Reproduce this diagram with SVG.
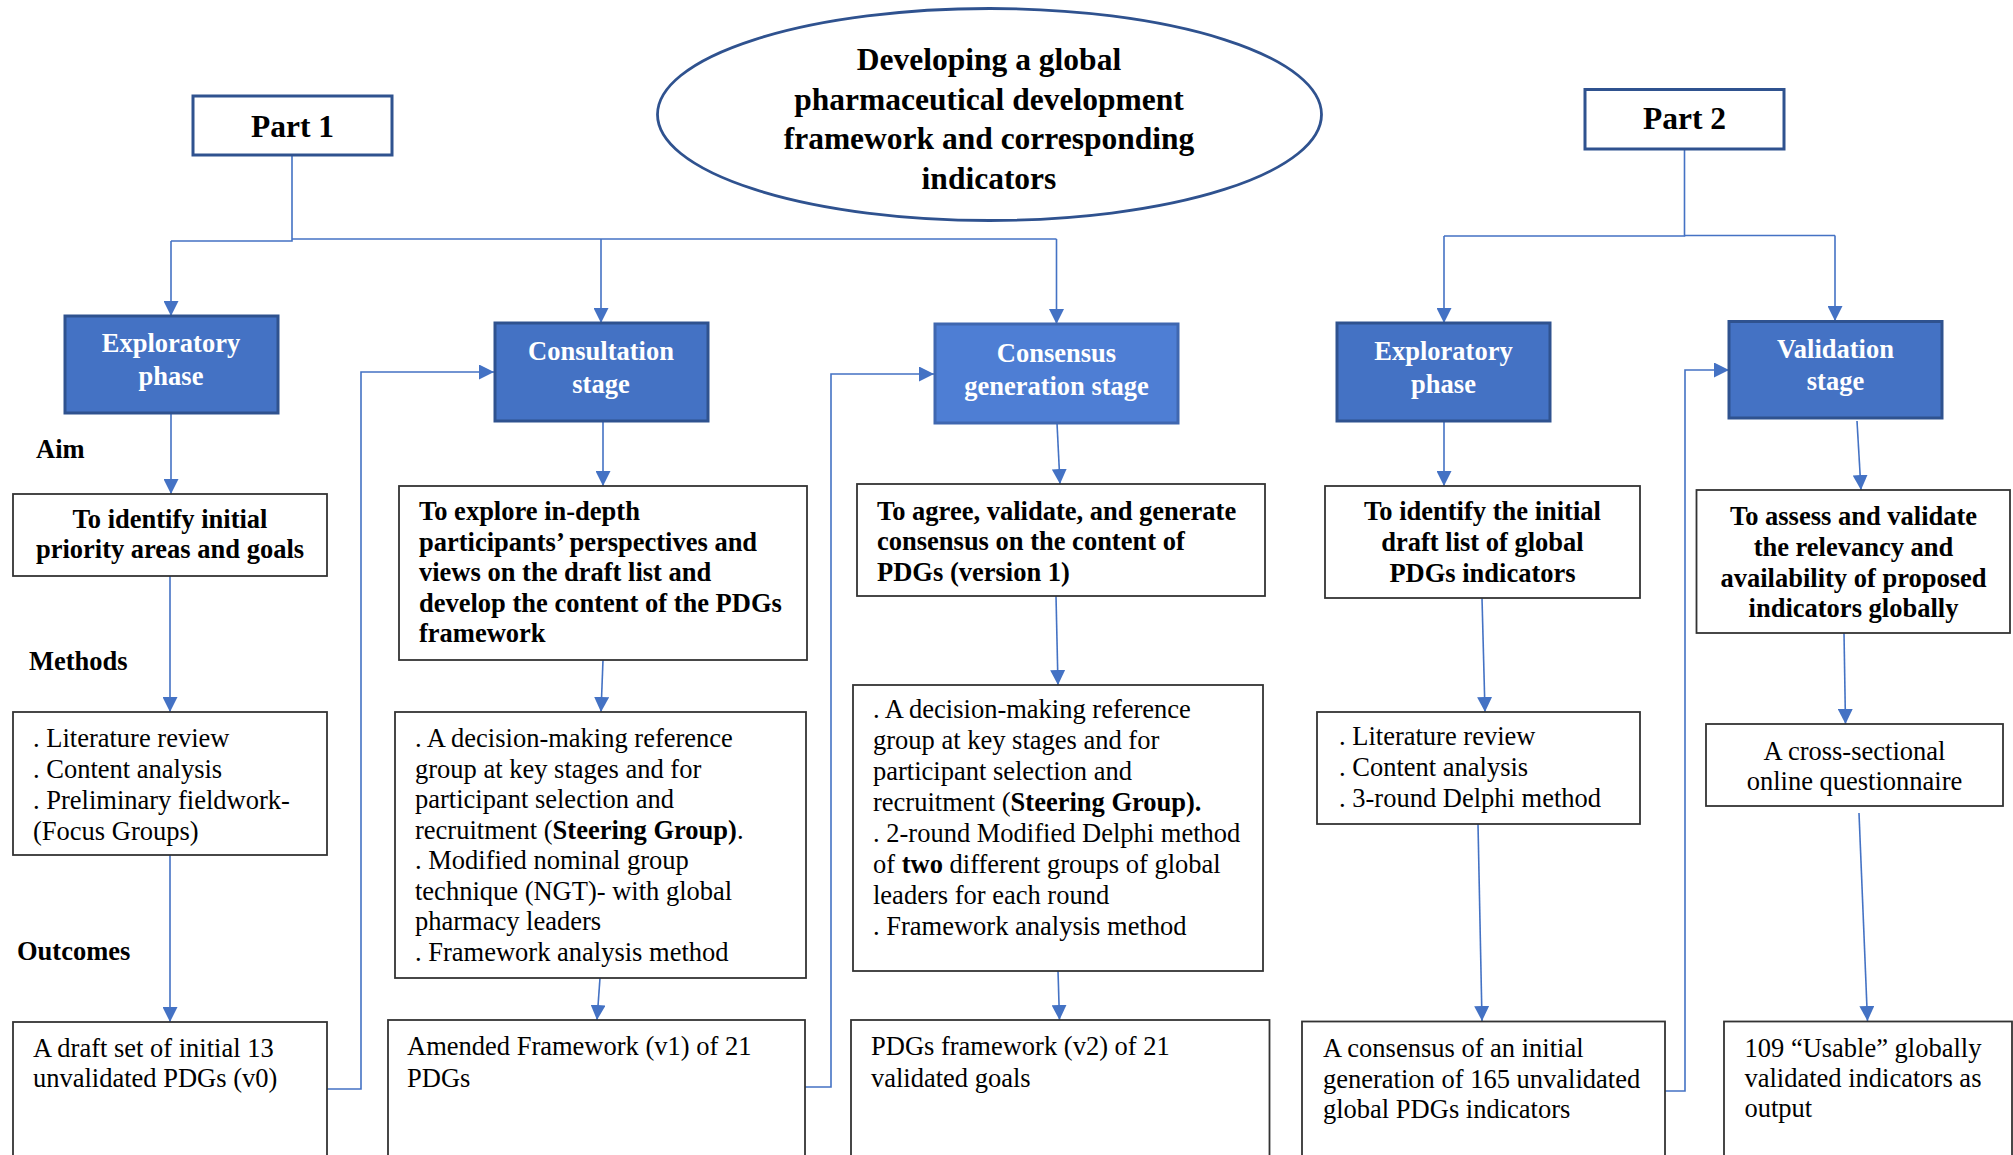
<svg xmlns="http://www.w3.org/2000/svg" width="2013" height="1155" viewBox="0 0 2013 1155">
<defs>
<marker id="ah" viewBox="0 0 10 10" refX="10" refY="5" markerWidth="15" markerHeight="15" markerUnits="userSpaceOnUse" orient="auto">
<path d="M0,0 L10,5 L0,10 z" fill="#4472C4"/>
</marker>
</defs>
<style>
text{font-family:"Liberation Serif","Times New Roman",serif;font-size:26.5px;fill:#000}
.b{font-weight:bold}
.w{fill:#fff;font-weight:bold}
.c{text-anchor:middle}
.title{font-size:31.5px;font-weight:bold}
.part{fill:#fff;stroke:#2F528F;stroke-width:3}
.blue{fill:#4472C4;stroke:#2F528F;stroke-width:3}
.blue2{fill:#4E7ED4;stroke:#3F67B0;stroke-width:3}
.box{fill:#fff;stroke:#333;stroke-width:1.8}
.con{fill:none;stroke:#4472C4;stroke-width:1.6}
.arr{fill:none;stroke:#4472C4;stroke-width:1.6;marker-end:url(#ah)}
</style>
<rect width="2013" height="1155" fill="#fff"/>

<g id="connectors">
<path class="con" d="M292,155 V241 H171"/>
<path class="arr" d="M171,241 V316"/>
<path class="con" d="M292,239 H1056.5"/>
<path class="arr" d="M601,239 V323"/>
<path class="arr" d="M1056.5,239 V324"/>
<path class="arr" d="M171,413 V494"/>
<path class="arr" d="M170,576 V712"/>
<path class="arr" d="M170,855 V1022"/>
<path class="arr" d="M603,421 V486"/>
<path class="arr" d="M603,660 L601,712"/>
<path class="arr" d="M600,978 L597,1020"/>
<path class="arr" d="M327,1089 H361 V372 H494"/>
<path class="arr" d="M1057,423 L1060,484"/>
<path class="arr" d="M1056,596 L1058,685"/>
<path class="arr" d="M1058,971 L1059.5,1020"/>
<path class="arr" d="M805,1087 H831 V374 H934"/>
<path class="con" d="M1684.5,149 V236 H1444"/>
<path class="con" d="M1684.5,235.5 H1835"/>
<path class="arr" d="M1444,236 V323"/>
<path class="arr" d="M1835,235.5 V321"/>
<path class="arr" d="M1444,421 V486"/>
<path class="arr" d="M1482,598 L1485,712"/>
<path class="arr" d="M1478,824 L1482,1021"/>
<path class="arr" d="M1665,1091 H1685 V370 H1729"/>
<path class="arr" d="M1857,421 L1861,490"/>
<path class="arr" d="M1844,633 L1845.5,724"/>
<path class="arr" d="M1859,813 L1867.5,1021"/>
</g>

<g id="title">
<ellipse cx="989.5" cy="114.5" rx="332" ry="106" fill="#fff" stroke="#2F528F" stroke-width="2.8"/>
<text class="title c" x="989" y="70">Developing a global</text>
<text class="title c" x="989" y="109.5">pharmaceutical development</text>
<text class="title c" x="989" y="149">framework and corresponding</text>
<text class="title c" x="989" y="188.5">indicators</text>
</g>

<g id="part1">
<rect class="part" x="193" y="96" width="199" height="59"/>
<text class="title c" x="292.5" y="137">Part 1</text>
</g>
<g id="part2">
<rect class="part" x="1585" y="89.5" width="199" height="59.5"/>
<text class="title c" x="1684.5" y="129">Part 2</text>
</g>

<g id="labels">
<text class="b" x="36" y="458">Aim</text>
<text class="b" x="29" y="670">Methods</text>
<text class="b" x="17" y="960">Outcomes</text>
</g>

<g id="exploratory1">
<rect class="blue" x="65" y="316" width="213" height="97"/>
<text class="w c" x="171" y="352">Exploratory</text>
<text class="w c" x="171" y="385">phase</text>
</g>
<g id="aim1">
<rect class="box" x="13" y="494" width="314" height="82"/>
<text class="b c" x="170" y="528">To identify initial</text>
<text class="b c" x="170" y="558">priority areas and goals</text>
</g>
<g id="methods1">
<rect class="box" x="13" y="712" width="314" height="143"/>
<text x="33" y="747">. Literature review</text>
<text x="33" y="778">. Content analysis</text>
<text x="33" y="809">. Preliminary fieldwork-</text>
<text x="33" y="840">(Focus Groups)</text>
</g>
<g id="outcome1">
<rect class="box" x="13" y="1022" width="314" height="140"/>
<text x="33" y="1057">A draft set of initial 13</text>
<text x="33" y="1087">unvalidated PDGs (v0)</text>
</g>

<g id="consultation">
<rect class="blue" x="495" y="323" width="213" height="98"/>
<text class="w c" x="601" y="360">Consultation</text>
<text class="w c" x="601" y="393">stage</text>
</g>
<g id="aim2">
<rect class="box" x="399" y="486" width="408" height="174"/>
<text class="b" x="419" y="520">To explore in-depth</text>
<text class="b" x="419" y="550.5">participants’ perspectives and</text>
<text class="b" x="419" y="581">views on the draft list and</text>
<text class="b" x="419" y="611.5">develop the content of the PDGs</text>
<text class="b" x="419" y="642">framework</text>
</g>
<g id="methods2">
<rect class="box" x="395" y="712" width="411" height="266"/>
<text x="415" y="747">. A decision-making reference</text>
<text x="415" y="777.5">group at key stages and for</text>
<text x="415" y="808">participant selection and</text>
<text x="415" y="838.5">recruitment (<tspan class="b">Steering Group)</tspan>.</text>
<text x="415" y="869">. Modified nominal group</text>
<text x="415" y="899.5">technique (NGT)- with global</text>
<text x="415" y="930">pharmacy leaders</text>
<text x="415" y="960.5">. Framework analysis method</text>
</g>
<g id="outcome2">
<rect class="box" x="388" y="1020" width="417" height="142"/>
<text x="407" y="1055">Amended Framework (v1) of 21</text>
<text x="407" y="1087">PDGs</text>
</g>

<g id="consensus">
<rect class="blue2" x="935" y="324" width="243" height="99"/>
<text class="w c" x="1056.5" y="361.5">Consensus</text>
<text class="w c" x="1056.5" y="395">generation stage</text>
</g>
<g id="aim3">
<rect class="box" x="857" y="484" width="408" height="112"/>
<text class="b" x="877" y="520">To agree, validate, and generate</text>
<text class="b" x="877" y="550">consensus on the content of</text>
<text class="b" x="877" y="580.5">PDGs (version 1)</text>
</g>
<g id="methods3">
<rect class="box" x="853" y="685" width="410" height="286"/>
<text x="873" y="718">. A decision-making reference</text>
<text x="873" y="749">group at key stages and for</text>
<text x="873" y="780">participant selection and</text>
<text x="873" y="811">recruitment (<tspan class="b">Steering Group).</tspan></text>
<text x="873" y="842">. 2-round Modified Delphi method</text>
<text x="873" y="873">of <tspan class="b">two</tspan> different groups of global</text>
<text x="873" y="904">leaders for each round</text>
<text x="873" y="935">. Framework analysis method</text>
</g>
<g id="outcome3">
<rect class="box" x="851" y="1020" width="418.5" height="142"/>
<text x="871" y="1055">PDGs framework (v2) of 21</text>
<text x="871" y="1087">validated goals</text>
</g>

<g id="exploratory2">
<rect class="blue" x="1337" y="323" width="213" height="98"/>
<text class="w c" x="1443.5" y="360">Exploratory</text>
<text class="w c" x="1443.5" y="393">phase</text>
</g>
<g id="aim4">
<rect class="box" x="1325" y="486" width="315" height="112"/>
<text class="b c" x="1482.5" y="520">To identify the initial</text>
<text class="b c" x="1482.5" y="551">draft list of global</text>
<text class="b c" x="1482.5" y="581.5">PDGs indicators</text>
</g>
<g id="methods4">
<rect class="box" x="1317" y="712" width="323" height="112"/>
<text x="1339" y="745">. Literature review</text>
<text x="1339" y="776">. Content analysis</text>
<text x="1339" y="806.5">. 3-round Delphi method</text>
</g>
<g id="outcome4">
<rect class="box" x="1302" y="1021.5" width="363" height="140"/>
<text x="1323" y="1057">A consensus of an initial</text>
<text x="1323" y="1087.5">generation of 165 unvalidated</text>
<text x="1323" y="1118">global PDGs indicators</text>
</g>

<g id="validation">
<rect class="blue" x="1729" y="321.5" width="213" height="96.5"/>
<text class="w c" x="1835.5" y="358">Validation</text>
<text class="w c" x="1835.5" y="390">stage</text>
</g>
<g id="aim5">
<rect class="box" x="1696.5" y="490" width="313.5" height="143"/>
<text class="b c" x="1853.5" y="525">To assess and validate</text>
<text class="b c" x="1853.5" y="556">the relevancy and</text>
<text class="b c" x="1853.5" y="586.5">availability of proposed</text>
<text class="b c" x="1853.5" y="617">indicators globally</text>
</g>
<g id="methods5">
<rect class="box" x="1706" y="724" width="297" height="82"/>
<text class="c" x="1854.5" y="760">A cross-sectional</text>
<text class="c" x="1854.5" y="790">online questionnaire</text>
</g>
<g id="outcome5">
<rect class="box" x="1724" y="1021.5" width="288" height="140"/>
<text x="1744.5" y="1057">109 “Usable” globally</text>
<text x="1744.5" y="1087">validated indicators as</text>
<text x="1744.5" y="1117">output</text>
</g>
</svg>
